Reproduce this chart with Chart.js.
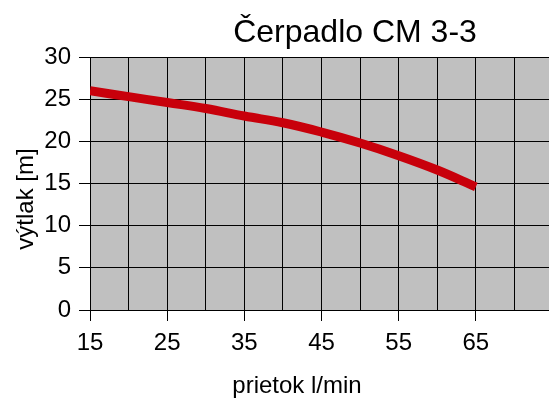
<!DOCTYPE html>
<html>
<head>
<meta charset="utf-8">
<script src="https://cdn.jsdelivr.net/npm/chart.js@4"></script>
<style>
  html, body { margin: 0; padding: 0; background: #fff; overflow: hidden; }
  #wrap { width: 549px; height: 401px; overflow: hidden; }
  #box { width: 710px; height: 401px; }
</style>
</head>
<body>
<div id="wrap"><div id="box"><canvas id="myChart"></canvas></div></div>
<script>
const flow = [15, 20, 25, 30, 35, 40, 45, 50, 55, 60, 65];
const head = [26.0, 25.3, 24.6, 23.9, 23.0, 22.2, 21.1, 19.8, 18.3, 16.6, 14.6];

const xMin = 15, xMax = 75, xStep = 5;
const yMin = 0, yMax = 30, yStep = 5;

const titleText = "Čerpadlo CM 3-3";
const xTitle = "prietok l/min";
const yTitle = "výtlak [m]";

const font = "'Liberation Sans', Arial, sans-serif";

// gray plot background
const plotBg = {
  id: "plotBg",
  beforeDraw(chart) {
    const a = chart.chartArea;
    const ctx = chart.ctx;
    ctx.save();
    ctx.fillStyle = "#c0c0c0";
    ctx.fillRect(a.left, a.top, a.right - a.left, a.bottom - a.top);
    ctx.restore();
  }
};

// titles drawn by hand, the original has them off-centre
const titles = {
  id: "titles",
  afterDraw(chart) {
    const ctx = chart.ctx;
    const a = chart.chartArea;
    ctx.save();
    ctx.fillStyle = "#000";
    ctx.textAlign = "center";
    ctx.textBaseline = "alphabetic";

    ctx.font = "32px " + font;
    ctx.fillText(titleText, 355, a.top - 15);

    ctx.font = "24px " + font;
    ctx.fillText(xTitle, 297, a.bottom + 83);

    ctx.translate(33, 199);
    ctx.rotate(-Math.PI / 2);
    ctx.fillText(yTitle, 0, 0);
    ctx.restore();
  }
};

const isLabeled = v => (v - xMin) % 10 === 0 && v < xMax;

const data = {
  datasets: [
    {
      data: flow.map((x, i) => ({ x: x, y: head[i] })),
      borderColor: "#c8000b",
      borderWidth: 9,
      pointRadius: 0,
      tension: 0.4,
      fill: false
    }
  ]
};

const config = {
  type: "line",
  data: data,
  options: {
    responsive: true,
    maintainAspectRatio: false,
    animation: false,
    layout: { padding: { left: 0, right: 157, top: 57, bottom: 0 } },
    plugins: {
      legend: { display: false },
      tooltip: { enabled: false },
      title: { display: false }
    },
    scales: {
      x: {
        type: "linear",
        min: xMin,
        max: xMax,
        afterFit(s) { s.height = 91; },
        ticks: {
          stepSize: xStep,
          autoSkip: false,
          maxRotation: 0,
          padding: 8,
          color: "#000",
          font: { family: font, size: 24 },
          callback: v => (isLabeled(v) ? String(v) : "")
        },
        grid: {
          color: "#000",
          lineWidth: 1,
          tickLength: 11,
          tickColor: ctx => (ctx.tick && isLabeled(ctx.tick.value) ? "#000" : "rgba(0,0,0,0)")
        },
        border: { color: "#000" }
      },
      y: {
        min: yMin,
        max: yMax,
        afterFit(s) { s.width = 90; },
        ticks: {
          stepSize: yStep,
          padding: 8,
          color: "#000",
          font: { family: font, size: 24 }
        },
        grid: { color: "#000", lineWidth: 1, tickLength: 11, tickColor: "#000" },
        border: { color: "#000" }
      }
    }
  },
  plugins: [plotBg, titles]
};

const myChart = new Chart(document.getElementById("myChart"), config);
</script>
</body>
</html>
